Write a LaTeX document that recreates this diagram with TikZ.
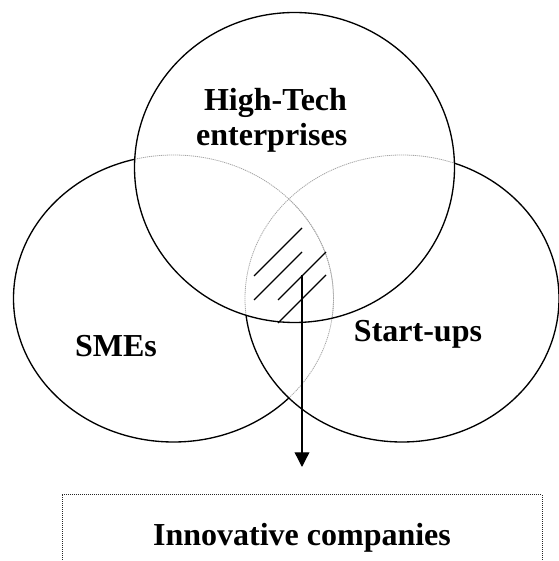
\documentclass[tikz,border=0pt]{standalone}
\usepackage{fontspec}
\setmainfont{Liberation Serif}
\usetikzlibrary{arrows.meta}

% the three sets, in px-like units (x=y=0.75pt)
\def\hightechring{(294.5,393.5) ellipse (160 and 155)}
\def\smering{(173.5,262.5) ellipse (160 and 143.5)}
\def\startupring{(402,262.5) ellipse (157 and 143.5)}
\def\pagebox{(0,0) rectangle (559,561)}

\tikzset{
  rim/.style={line width=1pt},
  hidden/.style={draw=black!35, line width=0.6pt, dash pattern=on 0.9pt off 0.6pt},
  tag/.style={anchor=base, inner sep=0pt, font=\fontsize{24}{27}\selectfont\bfseries},
  hatch/.style={line width=1pt},
  outcome/.style={draw=black!85, line width=0.75pt, dash pattern=on 0.75pt off 0.75pt,
    minimum width=360pt, minimum height=65.4pt, inner sep=0pt,
    font=\fontsize{24}{27}\selectfont\bfseries},
  flow/.style={line width=1pt, -{Triangle[length=11pt,width=11pt]}}
}

\begin{document}
\begin{tikzpicture}[x=0.75pt,y=0.75pt]
  \useasboundingbox \pagebox;

  % parts hidden behind the front sets
  \begin{scope}
    \clip \hightechring;
    \draw[hidden] \smering;
    \draw[hidden] \startupring;
  \end{scope}
  \begin{scope}
    \clip \startupring;
    \draw[hidden] \smering;
  \end{scope}
  %
  \draw[rim] \hightechring;
  \begin{scope}[even odd rule]
    \clip \pagebox \hightechring;
    \draw[rim] \startupring;
  \end{scope}
  \begin{scope}[even odd rule]
    \clip \pagebox \hightechring;
    \clip \pagebox \startupring;
    \draw[rim] \smering;
  \end{scope}
  %%%%%%%%%%%%%%%%%%%%%
  \foreach \x/\y in {254/285, 254/261, 278/261, 278/238}
    \draw[hatch] (\x,\y) -- ++(48,48);

  \node[tag] (hightech) at (275.5,450.3) {High-Tech};
  \node[tag] (enterprises) at (271.7,415) {enterprises};
  \node[tag] (smes) at (116,204.3) {SMEs};
  \node[tag] (startups) at (418,219.3) {Start-ups};
  %%%%%%%%%%%%%%%%%%%%%
  \node[outcome, anchor=north] (innov) at (302,67) {Innovative companies};
  \coordinate (core) at (302,286);
  \coordinate (tip) at ([yshift=20.25pt]innov.north);
  \draw[flow] (core) -- (core |- tip);
\end{tikzpicture}
\end{document}
